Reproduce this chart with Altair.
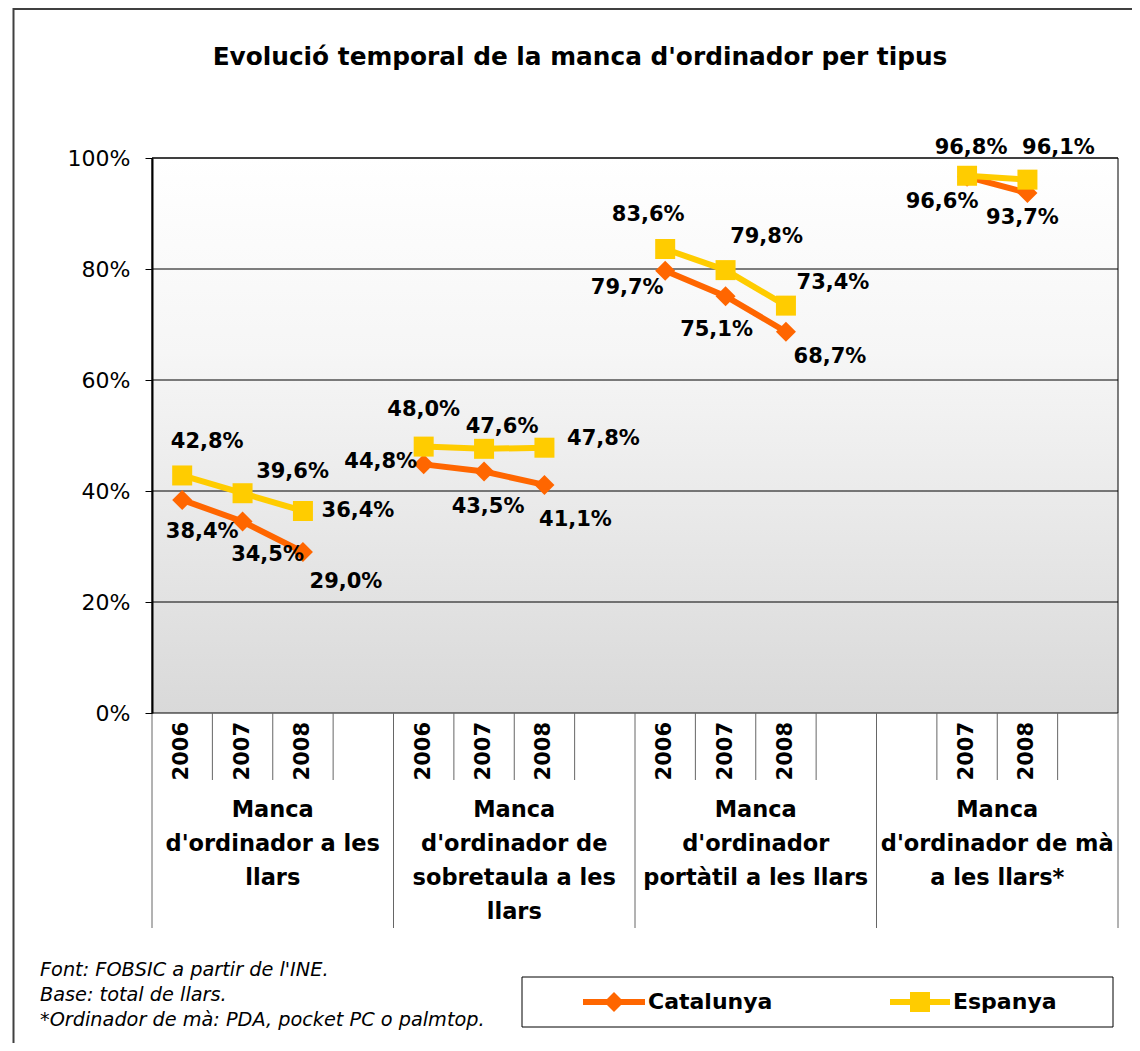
import altair as alt
import pandas as pd

# ---------------- data ----------------
TITLE = "Evolució temporal de la manca d'ordinador per tipus"
GROUP_LABELS = [
    ["Manca", "d'ordinador a les", "llars"],
    ["Manca", "d'ordinador de", "sobretaula a les", "llars"],
    ["Manca", "d'ordinador", "portàtil a les llars"],
    ["Manca", "d'ordinador de mà", "a les llars*"],
]
YEAR_SLOTS = [
    ["2006", "2007", "2008", ""],
    ["2006", "2007", "2008", ""],
    ["2006", "2007", "2008", ""],
    ["", "2007", "2008", ""],
]
SERIES = ["Catalunya", "Espanya"]
CATALUNYA = [38.4, 34.5, 29.0, None, 44.8, 43.5, 41.1, None,
             79.7, 75.1, 68.7, None, None, 96.6, 93.7, None]
ESPANYA = [42.8, 39.6, 36.4, None, 48.0, 47.6, 47.8, None,
           83.6, 79.8, 73.4, None, None, 96.8, 96.1, None]
Y_TICKS = [0, 20, 40, 60, 80, 100]
FOOTNOTES = ["Font: FOBSIC a partir de l'INE.",
             "Base: total de llars.",
             "*Ordinador de mà: PDA, pocket PC o palmtop."]

# ---------------- style ----------------
COLORS = ["#FF6600", "#FFCC00"]
SHAPES = ["diamond", "square"]
# label offsets (pixels) for each drawn point, in order
CAT_DX = [20, 25, 43, -43, 4, 31, -38, -9, 44, -25, -5]
CAT_DY = [32, 33, 30, -2, 35, 35, 17, 34, 25, 25, 25]
ESP_DX = [25, 50, 55, 0, 18, 59, -17, 41, 47, 4, 31]
ESP_DY = [-33, -21, 0, -37, -22, -9, -34, -33, -23, -28, -32]

W, H = 966, 555
N_SLOTS = 16
PX_SLOT = W / N_SLOTS
PX_PCT = H / 100.0
BOLD = "DejaVu Sans"

# ---------------- tables ----------------
rows = []
for name, vals, dxs, dys in [("Catalunya", CATALUNYA, CAT_DX, CAT_DY),
                             ("Espanya", ESPANYA, ESP_DX, ESP_DY)]:
    k = 0
    for i, v in enumerate(vals):
        if v is None:
            continue
        rows.append(dict(series=name, slot=i + 0.5, group=i // 4, value=v,
                         label=f"{v:.1f}".replace(".", ",") + "%",
                         dx=dxs[k], dy=dys[k]))
        k += 1
df = pd.DataFrame(rows)

years = []
for g, ys in enumerate(YEAR_SLOTS):
    for j, y in enumerate(ys):
        if y:
            years.append(dict(slot=g * 4 + j + 0.5, year=y))
years_df = pd.DataFrame(years)

short_ticks = pd.DataFrame({"b": [g * 4 + j for g in range(4) for j in (1, 2, 3)]})
long_ticks = pd.DataFrame({"b": [g * 4 for g in range(5)]})
groups_df = pd.DataFrame({"slot": [g * 4 + 2 for g in range(4)],
                          "text": ["\n".join(l) for l in GROUP_LABELS]})
grid_df = pd.DataFrame({"v": Y_TICKS[1:]})
one = pd.DataFrame({"a": [0]})

xscale = alt.Scale(domain=[0, N_SLOTS], nice=False, zero=False)
yscale = alt.Scale(domain=[0, 100], nice=False, zero=True)
yaxis = alt.Axis(values=Y_TICKS, labelExpr="datum.value + '%'", grid=False,
                 domainColor="black", domainWidth=2, tickColor="black",
                 tickSize=7, tickWidth=1, labelFont="DejaVu Sans",
                 labelFontSize=22, labelColor="black", labelPadding=15,
                 title=None, zindex=1)
color = alt.Color("series:N", scale=alt.Scale(domain=SERIES, range=COLORS), legend=None)
shape = alt.Shape("series:N", scale=alt.Scale(domain=SERIES, range=SHAPES), legend=None)

gradient = alt.LinearGradient(
    gradient="linear",
    stops=[alt.GradientStop(color="#ffffff", offset=0),
           alt.GradientStop(color="#f6f6f6", offset=0.35),
           alt.GradientStop(color="#d9d9d9", offset=1)],
    x1=0, x2=0, y1=0, y2=1)

bg = alt.Chart(one).mark_rect(fill=gradient).encode(
    x=alt.value(0), x2=alt.value(W), y=alt.value(0), y2=alt.value(H))

grid = alt.Chart(grid_df).mark_rule(color="black", strokeWidth=1).encode(
    y=alt.Y("v:Q", scale=yscale, axis=yaxis), x=alt.value(0), x2=alt.value(W))

frame = alt.Chart(one).mark_rect(fill=None, stroke="black", strokeWidth=1).encode(
    x=alt.value(0), x2=alt.value(W), y=alt.value(0), y2=alt.value(H))

sticks = alt.Chart(short_ticks).mark_rule(color="#666666", strokeWidth=1).encode(
    x=alt.X("b:Q", scale=xscale, axis=None), y=alt.value(H), y2=alt.value(H + 67))
lticks = alt.Chart(long_ticks).mark_rule(color="#666666", strokeWidth=1).encode(
    x=alt.X("b:Q", scale=xscale, axis=None), y=alt.value(H), y2=alt.value(H + 215))

layers = [bg, grid, frame, sticks, lticks]
for s in SERIES:
    d = df[df.series == s]
    base = alt.Chart(d).encode(
        x=alt.X("slot:Q", scale=xscale, axis=None),
        y=alt.Y("value:Q", scale=yscale, axis=yaxis),
        color=color, detail="group:N")
    layers.append(base.mark_line(strokeWidth=6))
    layers.append(base.mark_point(filled=True, size=400, opacity=1).encode(shape=shape))

labels = alt.Chart(df).transform_calculate(
    lx=f"datum.slot + datum.dx / {PX_SLOT}",
    ly=f"datum.value - datum.dy / {PX_PCT}",
).mark_text(font=BOLD, fontWeight="bold", fontSize=21, color="black",
            align="center", baseline="middle").encode(
    x=alt.X("lx:Q", scale=xscale, axis=None),
    y=alt.Y("ly:Q", scale=yscale, axis=yaxis),
    text="label:N")
layers.append(labels)

year_text = alt.Chart(years_df).mark_text(
    font=BOLD, fontWeight="bold", fontSize=21, color="black", angle=270,
    align="right", baseline="middle").encode(
    x=alt.X("slot:Q", scale=xscale, axis=None), y=alt.value(H + 9), text="year:N")
layers.append(year_text)

group_text = alt.Chart(groups_df).mark_text(
    font=BOLD, fontWeight="bold", fontSize=22.5, color="black", align="center",
    baseline="top", lineBreak="\n", lineHeight=34).encode(
    x=alt.X("slot:Q", scale=xscale, axis=None), y=alt.value(H + 86), text="text:N")
layers.append(group_text)

title = alt.Chart(one).mark_text(
    font=BOLD, fontWeight="bold", fontSize=24.8, color="black", align="center",
    baseline="middle", text=TITLE).encode(x=alt.value(428), y=alt.value(-100))
layers.append(title)

foot_df = pd.DataFrame({"t": ["\n".join(FOOTNOTES)]})
foot = alt.Chart(foot_df).mark_text(
    font="DejaVu Sans", fontStyle="italic", fontSize=19.3, color="black",
    align="left", baseline="middle", lineBreak="\n", lineHeight=25).encode(
    x=alt.value(-112), y=alt.value(H + 257), text="t:N")
layers.append(foot)

# legend (drawn by hand)
legbox = alt.Chart(one).mark_rect(fill="white", stroke="black", strokeWidth=1).encode(
    x=alt.value(370), x2=alt.value(961), y=alt.value(H + 264), y2=alt.value(H + 314))
layers.append(legbox)
LEG_X = [(431, 493, 462, 496), (738, 798, 768, 801)]
for s, c, shp, (x1, x2, xm, xt) in zip(SERIES, COLORS, SHAPES, LEG_X):
    ly = H + 289
    layers.append(alt.Chart(one).mark_rule(color=c, strokeWidth=6).encode(
        x=alt.value(x1), x2=alt.value(x2), y=alt.value(ly)))
    layers.append(alt.Chart(one).mark_point(filled=True, size=400, opacity=1,
                                            color=c, shape=shp).encode(
        x=alt.value(xm), y=alt.value(ly)))
    layers.append(alt.Chart(one).mark_text(
        font=BOLD, fontWeight="bold", fontSize=22, color="black", align="left",
        baseline="middle", text=s).encode(x=alt.value(xt), y=alt.value(ly)))

# outer chart border
layers.append(alt.Chart(one).mark_rule(color="#404040", strokeWidth=2).encode(
    x=alt.value(-138.5), y=alt.value(-150), y2=alt.value(H + 340)))
layers.append(alt.Chart(one).mark_rule(color="#404040", strokeWidth=2).encode(
    x=alt.value(-139), x2=alt.value(W + 20), y=alt.value(-149)))

chart = alt.layer(*layers).properties(
    width=W, height=H,
    autosize=alt.AutoSizeParams(type="none"),
    padding={"left": 144, "top": 150, "right": 14, "bottom": 330},
).configure_view(stroke=None)

chart.save("out.html", embed_options={"renderer": "svg", "actions": False})
